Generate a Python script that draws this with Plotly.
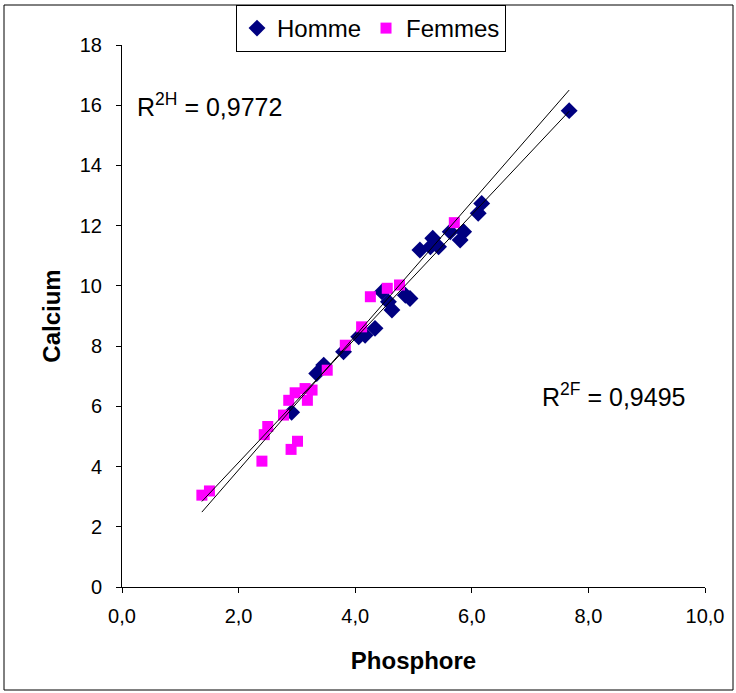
import numpy as np
import plotly.graph_objects as go

# Homme (men) data: Phosphore vs Calcium
homme_x = [2.91, 3.34, 3.46, 3.80, 4.06, 4.17, 4.34, 4.46, 4.57, 4.63, 4.86, 4.94,
           5.11, 5.29, 5.33, 5.43, 5.63, 5.80, 5.86, 6.11, 6.17, 7.67]
homme_y = [5.80, 7.09, 7.37, 7.81, 8.31, 8.36, 8.59, 9.80, 9.47, 9.20, 9.69, 9.58,
           11.19, 11.30, 11.58, 11.30, 11.80, 11.52, 11.80, 12.41, 12.74, 15.82]

# Femmes (women) data
femmes_x = [1.37, 1.50, 2.40, 2.90, 3.01, 2.44, 2.50, 2.77, 2.86, 2.97, 3.14, 3.26,
            3.18, 3.52, 3.83, 4.11, 4.26, 4.55, 4.76, 5.70]
femmes_y = [3.05, 3.19, 4.18, 4.57, 4.84, 5.06, 5.33, 5.71, 6.20, 6.45, 6.59, 6.54,
            6.20, 7.20, 8.03, 8.64, 9.64, 9.92, 10.03, 12.10]

r2_labels = ["R<sup>2H</sup> = 0,9772", "R<sup>2F</sup> = 0,9495"]
x_ticks = [0, 2, 4, 6, 8, 10]
x_tick_text = ["0,0", "2,0", "4,0", "6,0", "8,0", "10,0"]
y_ticks = [0, 2, 4, 6, 8, 10, 12, 14, 16, 18]

FONT = "Liberation Sans, Arial, sans-serif"

fig = go.Figure()
fig.add_trace(go.Scatter(x=homme_x, y=homme_y, mode="markers", name="Homme",
                         marker=dict(symbol="diamond", size=13, color="#000080",
                                     line=dict(width=0))))
fig.add_trace(go.Scatter(x=femmes_x, y=femmes_y, mode="markers", name="Femmes",
                         marker=dict(symbol="square", size=11, color="#FF00FF",
                                     line=dict(width=0))))

# linear trendlines over the common x range
all_x = homme_x + femmes_x
xr = np.array([min(all_x), max(all_x)])
for xs, ys in [(homme_x, homme_y), (femmes_x, femmes_y)]:
    a, b = np.polyfit(xs, ys, 1)
    fig.add_trace(go.Scatter(x=xr, y=a * xr + b, mode="lines", showlegend=False,
                             line=dict(color="black", width=1), hoverinfo="skip"))

fig.add_annotation(x=0.23, y=16.0, text=r2_labels[0], showarrow=False,
                   xanchor="left", yanchor="middle", font=dict(size=25, color="black"))
fig.add_annotation(x=7.17, y=6.37, text=r2_labels[1], showarrow=False,
                   xanchor="left", yanchor="middle", font=dict(size=25, color="black"))

W, H = 736, 693
L, R, T, B = 122, 31, 45, 106
pw, ph = W - L - R, H - T - B
def px2paper_x(p):
    return (p - L) / pw
def px2paper_y(p):
    return (H - B - p) / ph

fig.add_shape(type="rect", xref="paper", yref="paper",
              x0=px2paper_x(4), x1=px2paper_x(733), y0=px2paper_y(690), y1=px2paper_y(5),
              line=dict(color="black", width=1), fillcolor="rgba(0,0,0,0)", layer="below")

fig.update_layout(
    width=W, height=H,
    margin=dict(l=L, r=R, t=T, b=B, autoexpand=False),
    paper_bgcolor="white", plot_bgcolor="white",
    font=dict(family=FONT, size=20, color="black"),
    showlegend=True,
    legend=dict(orientation="h", x=px2paper_x(236), y=px2paper_y(5),
                xanchor="left", yanchor="top",
                bordercolor="black", borderwidth=1, bgcolor="white",
                font=dict(size=24), itemwidth=30, tracegroupgap=0),
    xaxis=dict(range=[0, 10], tickvals=x_ticks, ticktext=x_tick_text,
               showgrid=False, zeroline=False, showline=True, linecolor="black",
               linewidth=1, ticks="outside", ticklen=5, tickcolor="black",
               ticklabelstandoff=6, automargin=False,
               title=dict(text="<b>Phosphore</b>", font=dict(size=24), standoff=26)),
    yaxis=dict(range=[0, 18], tickvals=y_ticks,
               showgrid=False, zeroline=False, showline=True, linecolor="black",
               linewidth=1, ticks="outside", ticklen=5, tickcolor="black",
               ticklabelstandoff=10, automargin=False,
               title=dict(text="<b>Calcium</b>", font=dict(size=24), standoff=12)),
)

fig.write_html("out.html")
